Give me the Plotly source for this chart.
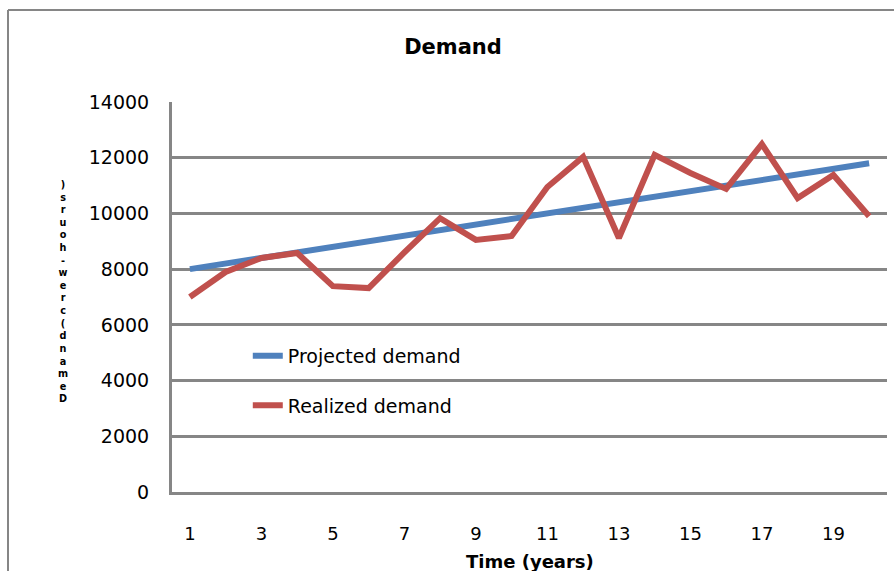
import plotly.graph_objects as go

years = list(range(1, 21))
projected = [8000, 8200, 8400, 8600, 8800, 9000, 9200, 9400, 9600, 9800,
             10000, 10200, 10400, 10600, 10800, 11000, 11200, 11400, 11600, 11800]
realized = [7000, 7900, 8400, 8580, 7390, 7320, 8600, 9830, 9050, 9190,
            10950, 12030, 9120, 12100, 11450, 10880, 12490, 10550, 11380, 9900]
x_ticks = [1, 3, 5, 7, 9, 11, 13, 15, 17, 19]
y_ticks = [0, 2000, 4000, 6000, 8000, 10000, 12000, 14000]

FONT = "DejaVu Sans"
GRID = "#868686"

fig = go.Figure()
fig.add_trace(go.Scatter(x=years, y=projected, mode="lines", name="Projected demand",
                         legendgroup="a",
                         line=dict(color="#4F81BD", width=6)))
fig.add_trace(go.Scatter(x=years, y=realized, mode="lines", name="Realized demand",
                         legendgroup="b",
                         line=dict(color="#C0504D", width=6)))

ylabel_chars = [")", "s", "r", "u", "o", "h", "-", "w", "e", "r", "c", "(",
                "d", "n", "a", "m", "e", "D"]
ylabel_text = "<br>".join(ylabel_chars)

fig.update_layout(
    width=894, height=571,
    margin=dict(l=172, r=7, t=102, b=79),
    paper_bgcolor="white", plot_bgcolor="white",
    font=dict(family=FONT, color="black"),
    title=dict(text="<b>Demand</b>", x=453 / 894, xanchor="center", xref="container",
               y=1 - 47 / 571, yanchor="middle", yref="container",
               font=dict(size=21, family=FONT, color="black")),
    showlegend=True,
    legend=dict(x=0.106, y=0.398, xanchor="left", yanchor="top",
                bgcolor="rgba(0,0,0,0)", tracegroupgap=22,
                font=dict(size=19, family=FONT, color="black")),
    xaxis=dict(range=[0.5, 20.5], tickvals=x_ticks, ticktext=[str(v) for v in x_ticks],
               showgrid=False, zeroline=False, showline=True, linecolor=GRID, linewidth=3,
               ticks="", ticklabelstandoff=23,
               tickfont=dict(size=18, family=FONT, color="black")),
    yaxis=dict(range=[0, 14000], tickvals=y_ticks, ticktext=[str(v) for v in y_ticks],
               showgrid=True, gridcolor=GRID, gridwidth=2.5, zeroline=False,
               showline=True, linecolor=GRID, linewidth=3,
               ticks="", ticklabelstandoff=16,
               tickfont=dict(size=19, family=FONT, color="black")),
    annotations=[
        dict(text="<b>Time (years)</b>", xref="paper", yref="paper", x=0.5, y=(492 - 561) / 390,
             xanchor="center", yanchor="middle", showarrow=False,
             font=dict(size=18, family=FONT, color="black")),
        dict(text="<b>" + ylabel_text + "</b>", xref="paper", yref="paper",
             x=(63 - 172) / 715, y=(492 - 291) / 390, xanchor="center", yanchor="middle",
             showarrow=False, align="center",
             font=dict(size=9.7, family=FONT, color="black")),
    ],
    shapes=[
        dict(type="line", xref="paper", yref="paper",
             x0=(8 - 172) / 715, x1=(8 - 172) / 715, y0=-0.3, y1=(492 - 10) / 390,
             line=dict(color=GRID, width=2)),
        dict(type="line", xref="paper", yref="paper",
             x0=(8 - 172) / 715, x1=1.05, y0=(492 - 10) / 390, y1=(492 - 10) / 390,
             line=dict(color=GRID, width=2)),
    ],
)

fig.write_html("out.html")
